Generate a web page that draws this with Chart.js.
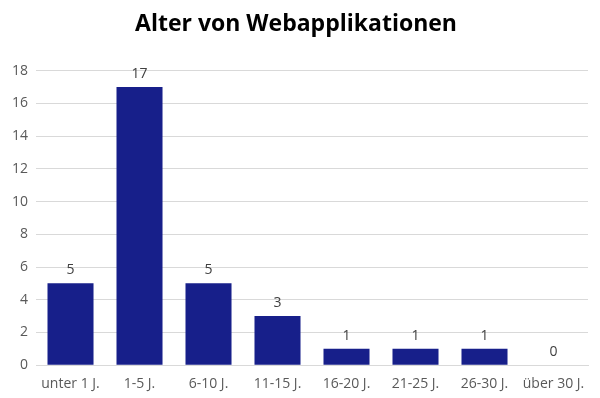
<!DOCTYPE html>
<html><head><meta charset="utf-8">
<script src="https://cdn.jsdelivr.net/npm/chart.js@4/dist/chart.umd.min.js"></script>
<style>html,body{margin:0;padding:0;background:#fff}#wrap{width:600px;height:398px}</style>
</head><body><div id="wrap"><canvas id="c" width="600" height="398"></canvas></div>
<script>
const categories = ["unter 1 J.", "1-5 J.", "6-10 J.", "11-15 J.", "16-20 J.", "21-25 J.", "26-30 J.", "über 30 J."];
const values = [5, 17, 5, 3, 1, 1, 1, 0];
const titleText = "Alter von Webapplikationen";

const labelPlugin = {
  id: 'vlabels',
  afterDatasetsDraw(chart) {
    const ctx = chart.ctx;
    const meta = chart.getDatasetMeta(0);
    ctx.save();
    ctx.font = '14px "Open Sans", sans-serif';
    ctx.fillStyle = '#404040';
    ctx.textAlign = 'center';
    ctx.textBaseline = 'bottom';
    meta.data.forEach((bar, i) => {
      ctx.fillText(String(values[i]), bar.x, bar.y - 6);
    });
    ctx.restore();
  }
};

new Chart(document.getElementById('c'), {
  type: 'bar',
  data: { labels: categories, datasets: [{ data: values, backgroundColor: '#171F8A', barPercentage: 0.667, categoryPercentage: 1 }] },
  options: {
    responsive: false, animation: false,
    layout: { padding: { left: 4, right: 12, top: 11, bottom: 4 } },
    plugins: {
      legend: { display: false },
      tooltip: { enabled: false },
      title: { display: true, text: titleText, color: '#000', font: { family: '"Open Sans", sans-serif', size: 23, weight: 'bold' }, padding: { top: 0, bottom: 32 } }
    },
    scales: {
      x: { grid: { display: false }, border: { color: '#d9d9d9' }, ticks: { color: '#595959', font: { family: '"Open Sans", sans-serif', size: 14 }, padding: 2, maxRotation: 0 } },
      y: { min: 0, max: 18, grid: { color: '#d9d9d9', drawTicks: false }, border: { display: false }, ticks: { stepSize: 2, color: '#595959', font: { family: '"Open Sans", sans-serif', size: 14 }, padding: 8 } }
    }
  },
  plugins: [labelPlugin]
});
</script></body></html>
